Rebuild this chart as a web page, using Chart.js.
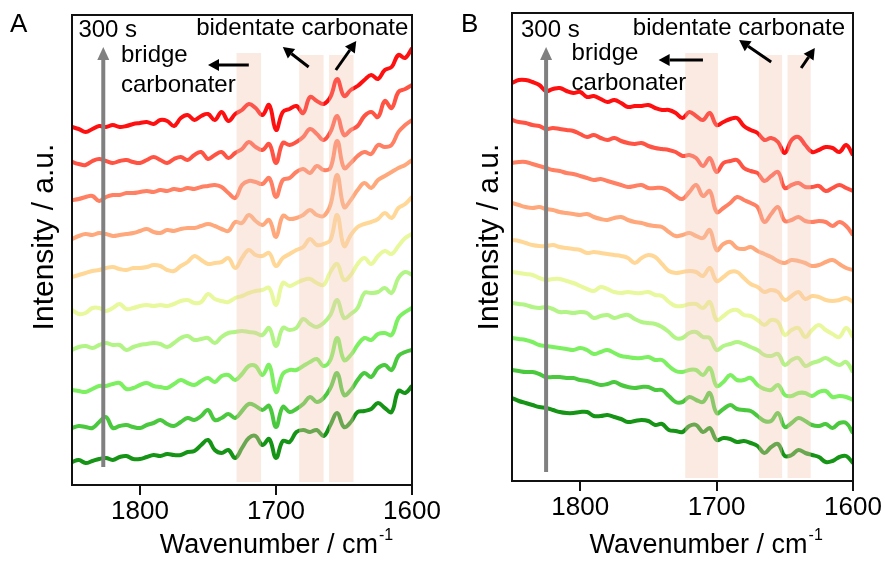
<!DOCTYPE html>
<html>
<head>
<meta charset="utf-8">
<script src="https://cdn.jsdelivr.net/npm/chart.js@4.4.1/dist/chart.umd.min.js"></script>
<style>
    body { margin: 0; background: #fff; width: 885px; height: 561px; position: relative; overflow: hidden; font-family: "Liberation Sans", Arial, sans-serif; }
    canvas { position: absolute; top: 0; }
    #chartA { left: 0; }
    #chartB { left: 440px; }
    .tag { position: absolute; font-size: 26px; line-height: 26px; color: #000; }
</style>
</head>
<body>
<canvas id="chartA" width="460" height="561"></canvas>
<canvas id="chartB" width="445" height="561"></canvas>
<div class="tag" style="left:10px; top:10px;">A</div>
<div class="tag" style="left:461px; top:10px;">B</div>
<script>
// wavenumber grid (cm-1), shared by every spectrum
const wavenumbers = [1850, 1845, 1840, 1835, 1830, 1825, 1820, 1815, 1810, 1805,
    1800, 1795, 1790, 1785, 1780, 1775, 1770, 1765, 1760, 1755,
    1750, 1745, 1740, 1735, 1730, 1725, 1720, 1715, 1710, 1705,
    1700, 1695, 1690, 1685, 1680, 1675, 1670, 1665, 1660, 1655,
    1650, 1645, 1640, 1635, 1630, 1625, 1620, 1615, 1610, 1605, 1600];
const xTicks = [1800, 1700, 1600];

// panel A, stacked spectra from 300 s (top) down to the first one (bottom)
const a1 = [358,356,353,356,359,358,360,358,359,361,362,363,361,365,364,359,367,370,365,369,371,365,373,364,371,375,381,377,370,380,355,373,376,379,372,388,384,381,388,406,389,395,399,405,410,406,415,418,430,427,437];
const a2 = [323,321,320,324,326,324,322,324,325,323,322,325,328,325,322,326,328,325,330,333,326,330,333,327,332,336,343,338,335,341,322,342,340,343,348,356,351,345,353,369,350,355,359,369,373,368,384,377,393,396,400];
const a3 = [285,286,288,289,284,288,290,290,292,292,293,294,293,295,294,296,295,297,296,298,299,300,298,292,287,300,304,303,301,307,288,305,307,313,316,312,319,315,317,344,317,322,329,333,331,340,338,340,353,360,365];
const a4 = [246,249,251,250,252,251,249,250,251,252,254,256,253,252,255,254,256,257,257,259,261,259,256,254,263,262,270,264,260,265,248,269,266,267,270,275,270,269,280,310,278,285,295,302,297,305,309,313,317,320,325];
const a5 = [208,210,212,214,215,217,218,216,215,217,217,218,220,219,215,214,219,223,229,225,221,222,223,227,217,227,235,230,229,232,219,227,231,235,238,246,240,241,245,270,239,250,258,261,263,266,272,267,277,281,288];
const a6 = [175,171,172,177,177,174,177,181,176,177,179,180,179,180,179,181,184,185,182,183,191,186,184,183,187,189,192,194,195,197,180,202,199,202,205,206,202,200,213,221,205,210,221,227,221,229,234,231,239,247,251];
const a7 = [135,138,139,137,140,142,140,140,135,138,140,141,142,141,138,142,147,149,145,146,147,142,148,152,153,154,153,152,150,157,139,157,155,157,166,161,158,162,170,185,167,171,177,192,192,193,197,192,207,213,210];
const a8 = [95,94,93,96,99,99,101,102,96,97,100,102,99,98,97,101,105,102,100,104,107,103,109,110,105,111,119,119,110,120,93,111,115,115,119,123,126,119,125,147,125,130,140,147,145,151,152,150,167,173,177];
const a9 = [57,59,58,57,63,68,57,59,60,58,57,60,62,65,61,59,63,67,65,69,75,65,67,71,67,74,81,79,75,79,58,78,73,76,81,88,83,87,97,112,90,95,105,112,108,117,120,115,129,133,135];
const a10 = [23,25,22,24,26,27,25,28,29,26,26,28,30,29,31,30,30,33,34,40,45,35,32,35,27,37,47,49,40,46,27,44,43,53,55,53,55,49,60,72,58,63,73,74,76,82,77,73,94,92,99];

// panel B
const b1 = [398,401,401,399,396,390,392,393,390,388,389,384,385,382,379,381,378,374,375,375,376,373,371,371,368,363,369,365,361,368,356,359,362,363,355,351,348,341,343,339,328,341,344,336,329,331,334,333,329,336,326];
const b2 = [361,359,358,356,355,352,353,352,351,350,347,344,346,343,341,343,340,338,337,338,335,333,332,331,329,325,326,323,315,323,309,318,320,321,313,310,308,300,305,309,293,296,298,294,294,295,290,293,296,293,290];
const b3 = [318,319,319,317,315,313,311,310,308,307,305,303,301,302,300,298,296,294,295,296,293,293,293,290,285,282,289,296,285,290,269,273,278,284,281,278,274,259,267,274,260,261,264,260,259,260,259,255,259,255,246];
const b4 = [278,276,274,273,274,272,271,269,268,267,266,267,264,262,261,263,264,261,259,258,256,255,254,249,245,246,248,245,243,251,231,237,239,233,232,234,230,227,224,220,218,221,220,218,215,216,219,221,217,213,211];
const b5 = [241,240,238,236,235,235,236,234,233,232,231,228,229,228,227,226,225,223,218,223,226,224,217,210,208,209,210,209,205,213,200,204,209,209,203,197,194,189,191,189,181,185,189,182,185,184,181,180,181,183,179];
const b6 = [209,208,207,206,203,201,202,202,200,198,195,192,190,194,192,189,188,189,188,188,189,186,185,179,175,175,177,177,173,179,161,165,170,171,166,165,161,156,161,159,146,151,153,144,151,156,151,147,144,153,144];
const b7 = [178,177,176,174,173,174,172,169,169,168,169,168,163,165,166,163,165,166,162,159,158,157,154,149,143,143,148,149,144,143,131,135,137,139,137,134,131,126,125,127,116,121,123,115,118,120,123,119,116,119,109];
const b8 = [143,142,141,139,136,135,134,133,132,131,133,131,127,129,131,128,125,124,123,123,124,121,121,115,110,109,111,111,106,113,95,99,106,101,101,103,96,92,91,96,86,85,88,88,85,89,90,84,85,84,81];
const b9 = [111,110,109,109,107,104,104,104,103,103,101,100,98,96,97,99,96,94,93,94,94,91,91,85,79,79,84,81,79,88,68,72,76,72,71,70,65,60,60,68,54,58,63,60,56,55,57,53,58,58,48];
const b10 = [83,80,78,76,74,73,71,69,68,68,69,69,65,65,66,64,62,59,60,61,60,56,57,51,50,49,55,56,49,53,41,43,42,39,40,38,35,28,34,37,25,26,31,28,26,24,19,20,24,25,18];

const lineColors = ['#ff1010', '#ff5444', '#ff8062', '#ffa87c', '#ffd898',
    '#e8f89c', '#b2f486', '#7cf060', '#4ac83e', '#169416'];

// highlighted regions [from, to, top] in cm-1 / a.u.
const bandsA = [[1729, 1711, 432], [1683, 1665, 430], [1661, 1643, 430]];
const bandsB = [[1723, 1699, 428], [1669, 1652, 426], [1648, 1631, 426]];

// labels [text, wavenumber, intensity]
const notesA = [['300 s', 1845.3, 455], ['bidentate carbonate', 1758.7, 457], ['bridge', 1814, 430], ['carbonater', 1814, 400]];
const notesB = [['300 s', 1843.4, 451], ['bidentate carbonate', 1761.4, 453], ['bridge', 1806.3, 428], ['carbonater', 1806.3, 398]];

// arrows [tailW, tailV, tipW, tipV]
const timeArrowA = [1827, 18, 1827, 438];
const timeArrowB = [1825, 9, 1825, 434];
const arrowsA = [[1720, 420, 1750, 420], [1676, 418, 1695, 438], [1656, 415, 1641, 444]];
const arrowsB = [[1710, 421, 1742.5, 421], [1660, 419, 1683.5, 441], [1638, 413, 1628, 433]];

// axis titles: x title centred at a wavenumber, y title centred at an intensity
const xTitle = 'Wavenumber / cm';
const yTitle = 'Intensity / a.u.';

const fontFamily = '"Liberation Sans", Arial, sans-serif';
Chart.defaults.font.family = fontFamily;
Chart.defaults.color = '#000';

function drawArrow(ctx, x1, y1, x2, y2, color, width, headLen, headHalf) {
    const ang = Math.atan2(y2 - y1, x2 - x1);
    const bx = x2 - headLen * Math.cos(ang);
    const by = y2 - headLen * Math.sin(ang);
    ctx.strokeStyle = color;
    ctx.fillStyle = color;
    ctx.lineWidth = width;
    ctx.beginPath();
    ctx.moveTo(x1, y1);
    ctx.lineTo(bx, by);
    ctx.stroke();
    ctx.beginPath();
    ctx.moveTo(x2, y2);
    ctx.lineTo(bx + headHalf * Math.sin(ang), by - headHalf * Math.cos(ang));
    ctx.lineTo(bx - headHalf * Math.sin(ang), by + headHalf * Math.cos(ang));
    ctx.closePath();
    ctx.fill();
}

function decorations(cfg) {
    return {
        id: 'decor',
        afterDatasetsDraw(chart) {
            const { ctx, chartArea: area, scales: { x, y } } = chart;
            ctx.save();

            // translucent bands sit over the spectra
            ctx.fillStyle = 'rgba(244, 200, 175, 0.38)';
            cfg.bands.forEach(([w1, w2, top]) => {
                const x1 = x.getPixelForValue(w1);
                const x2 = x.getPixelForValue(w2);
                const yt = y.getPixelForValue(top);
                const yb = y.getPixelForValue(3);
                ctx.fillRect(x1, yt, x2 - x1, yb - yt);
            });

            ctx.strokeStyle = '#111';
            ctx.lineWidth = 2;
            ctx.strokeRect(area.left, area.top, area.right - area.left, area.bottom - area.top);

            const t = cfg.timeArrow;
            drawArrow(ctx, x.getPixelForValue(t[0]), y.getPixelForValue(t[1]),
                x.getPixelForValue(t[2]), y.getPixelForValue(t[3]), '#808080', 4, 13, 6);

            cfg.arrows.forEach(a => {
                drawArrow(ctx, x.getPixelForValue(a[0]), y.getPixelForValue(a[1]),
                    x.getPixelForValue(a[2]), y.getPixelForValue(a[3]), '#000', 3, 11, 6);
            });

            ctx.font = '24px ' + fontFamily;
            ctx.fillStyle = '#000';
            ctx.textAlign = 'left';
            ctx.textBaseline = 'middle';
            cfg.notes.forEach(([text, w, v]) => {
                ctx.fillText(text, x.getPixelForValue(w), y.getPixelForValue(v));
            });
            ctx.restore();
        },
        afterDraw(chart) {
            const { ctx, scales: { x, y } } = chart;
            ctx.save();
            ctx.fillStyle = '#000';

            // x title with a real superscript
            ctx.font = '27px ' + fontFamily;
            const sup = '-1';
            const mainW = ctx.measureText(xTitle).width;
            ctx.font = '16px ' + fontFamily;
            const supW = ctx.measureText(sup).width;
            const cx = x.getPixelForValue(cfg.xTitleAt);
            const left = cx - (mainW + supW) / 2;
            ctx.textAlign = 'left';
            ctx.textBaseline = 'alphabetic';
            ctx.font = '27px ' + fontFamily;
            ctx.fillText(xTitle, left, 553);
            ctx.font = '16px ' + fontFamily;
            ctx.fillText(sup, left + mainW + 1, 540);

            // y title
            ctx.font = '30px ' + fontFamily;
            ctx.translate(cfg.yTitleX, y.getPixelForValue(cfg.yTitleAt));
            ctx.rotate(-Math.PI / 2);
            ctx.textAlign = 'center';
            ctx.textBaseline = 'middle';
            ctx.fillText(yTitle, 0, 0);
            ctx.restore();
        }
    };
}

function makePanel(id, series, cfg) {
    const ctx = document.getElementById(id).getContext('2d');
    return new Chart(ctx, {
        type: 'line',
        data: {
            datasets: series.map((vals, i) => ({
                data: vals.map((v, j) => ({ x: wavenumbers[j], y: v })),
                borderColor: lineColors[i],
                borderWidth: 4,
                pointRadius: 0,
                tension: 0.4,
                fill: false
            }))
        },
        options: {
            responsive: false,
            animation: false,
            events: [],
            layout: { padding: cfg.padding },
            plugins: { legend: { display: false }, tooltip: { enabled: false } },
            scales: {
                x: {
                    type: 'linear',
                    reverse: true,
                    min: 1600,
                    max: 1850,
                    afterBuildTicks: scale => { scale.ticks = xTicks.map(v => ({ value: v })); },
                    afterFit: scale => { scale.height = cfg.xAxisHeight; },
                    ticks: { font: { size: 26 }, padding: 1, maxRotation: 0, color: '#000', callback: v => String(v) },
                    grid: { drawOnChartArea: false, drawTicks: true, tickLength: 10, color: '#111', lineWidth: 2 },
                    border: { display: false },
                    title: { display: false }
                },
                y: {
                    min: 0,
                    max: cfg.yMax,
                    afterFit: scale => { scale.width = cfg.yAxisWidth; },
                    ticks: { display: false },
                    grid: { display: false },
                    border: { display: false },
                    title: { display: false }
                }
            }
        },
        plugins: [decorations(cfg)]
    });
}

makePanel('chartA', [a1, a2, a3, a4, a5, a6, a7, a8, a9, a10], {
    padding: { left: 0, right: 48, top: 15, bottom: 0 },
    xAxisHeight: 76,
    yAxisWidth: 72,
    yMax: 470,
    xTitleAt: 1700,
    yTitleAt: 248,
    yTitleX: 45,
    bands: bandsA,
    notes: notesA,
    timeArrow: timeArrowA,
    arrows: arrowsA
});

makePanel('chartB', [b1, b2, b3, b4, b5, b6, b7, b8, b9, b10], {
    padding: { left: 0, right: 32, top: 13, bottom: 0 },
    xAxisHeight: 80,
    yAxisWidth: 72,
    yMax: 468,
    xTitleAt: 1708,
    yTitleAt: 244,
    yTitleX: 50,
    bands: bandsB,
    notes: notesB,
    timeArrow: timeArrowB,
    arrows: arrowsB
});
</script>
</body>
</html>
